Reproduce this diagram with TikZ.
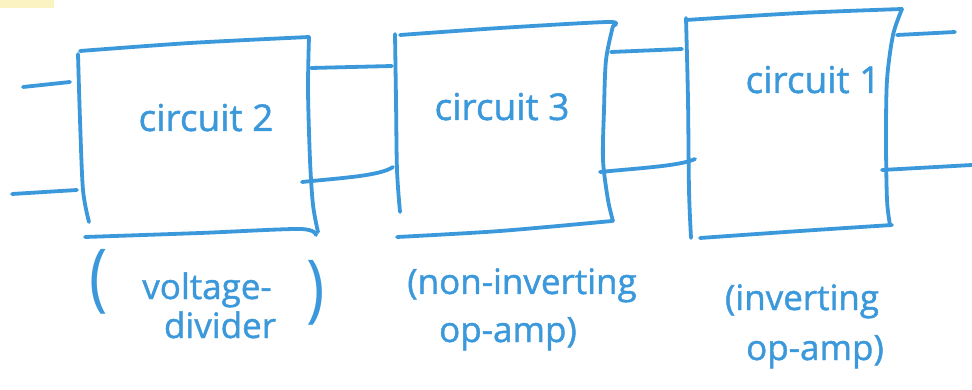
\documentclass[tikz,border=0pt]{standalone}
\usepackage{fontspec}
\setmainfont{Open Sans}
\newfontfamily\handfont{Open Sans}[FakeBold=1.2]
\definecolor{ink}{HTML}{3A98DB}
\definecolor{stickynote}{HTML}{FCF3C3}
\begin{document}
\begin{tikzpicture}[x=1pt,y=-1pt,
  pen/.style={draw=ink,line width=3.8pt,line cap=round,line join=round},
  boxlabel/.style={text=ink,font=\handfont\fontsize{37}{40}\selectfont,inner sep=0pt,anchor=base},
  notetext/.style={text=ink,font=\handfont\fontsize{35}{40}\selectfont,inner sep=0pt,anchor=base},
  bigparen/.style={text=ink,font=\fontsize{62}{62}\selectfont,inner sep=0pt,yscale=1.2}]
\useasboundingbox (0,0) rectangle (972,390);
\fill[stickynote] (0,0) rectangle (54,8);

% ---- block: circuit 2 ----
\draw[pen] plot[smooth] coordinates {(78,54) (80,120) (83,190) (89,222)};
\draw[pen] plot[smooth] coordinates {(80,51) (190,43) (309,37)};
\draw[pen] plot[smooth] coordinates {(309,37) (308,90) (310,160) (313,205) (318,232)};
\draw[pen] plot[smooth] coordinates {(85,237) (200,233) (300,229) (316,235)};
\node[boxlabel] (t2) at (206,131) {circuit 2};

% ---- block: circuit 3 ----
\draw[pen] plot[smooth] coordinates {(395,34) (396,100) (397,170) (400,212)};
\draw[pen] plot[smooth] coordinates {(400,35) (500,28) (608,22) (613,26)};
\draw[pen] plot[smooth] coordinates {(613,26) (606,60) (604,110) (603,160) (608,200) (613,221)};
\draw[pen] plot[smooth] coordinates {(397,237) (500,231) (612,221)};
\node[boxlabel] (t3) at (502,120) {circuit 3};

% ---- block: circuit 1 ----
\draw[pen] plot[smooth] coordinates {(686,18) (688,100) (689,190) (691,238)};
\draw[pen] plot[smooth] coordinates {(686,20) (800,13) (902,9)};
\draw[pen] plot[smooth] coordinates {(902,9) (893,35) (887,80) (886,140) (887,200) (890,225)};
\draw[pen] plot[smooth] coordinates {(700,238) (800,231) (892,225)};
\node[boxlabel] (t1) at (813,93) {circuit 1};

% ---- port positions ----
\coordinate (in-a) at (23,87);
\coordinate (in-b) at (12,194);
\coordinate (c2-in-a) at (70,82);
\coordinate (c2-in-b) at (77,190);
\coordinate (c2-out-a) at (311,68);
\coordinate (c2-out-b) at (302,182);
\coordinate (c3-in-a) at (392,66);
\coordinate (c3-in-b) at (393,167);
\coordinate (c3-out-a) at (611,52);
\coordinate (c3-out-b) at (600,172);
\coordinate (c1-in-a) at (682,49);
\coordinate (c1-in-b) at (695,159);
\coordinate (c1-out-a) at (897,35);
\coordinate (c1-out-b) at (882,170);
\coordinate (out-a) at (955,32);
\coordinate (out-b) at (972,165);

% ---- wires ----
\draw[pen] (in-a) -- (c2-in-a);
\draw[pen] (in-b) -- (c2-in-b);
\draw[pen] (c2-out-a) -- (c3-in-a);
\draw[pen] (c2-out-b) .. controls (340,178) and (380,176) .. (c3-in-b);
\draw[pen] (c3-out-a) -- (c1-in-a);
\draw[pen] (c3-out-b) .. controls (640,168) and (680,166) .. (c1-in-b);
\draw[pen] (c1-out-a) -- (out-a);
\draw[pen] (c1-out-b) -- (out-b);

% ---- notes under the blocks ----
\node[bigparen] (p2l) at (99,282) {(};
\node[bigparen] (p2r) at (316,293) {)};
\node[notetext] (n2a) at (207,299) {voltage-};
\node[notetext] (n2b) at (220,338) {divider};

\node[notetext] (n3a) at (522,294) {(non-inverting};
\node[notetext] (n3b) at (508,342) {op-amp)};

\node[notetext] (n1a) at (802,310) {(inverting};
\node[notetext] (n1b) at (815,360) {op-amp)};
\end{tikzpicture}
\end{document}
